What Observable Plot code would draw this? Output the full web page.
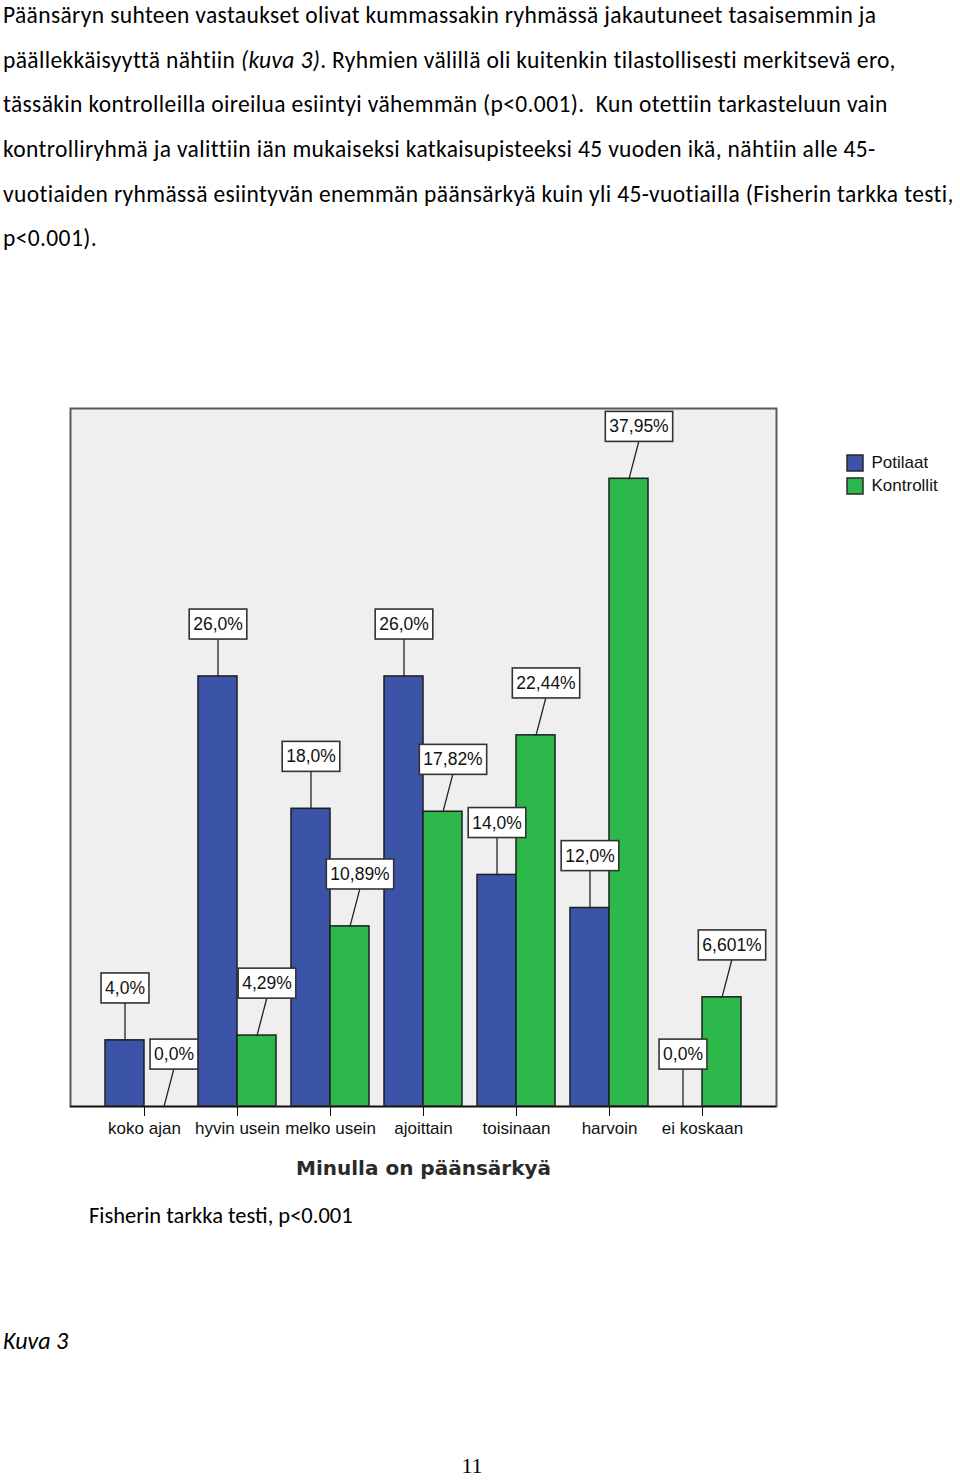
<!DOCTYPE html>
<html>
<head>
<meta charset="utf-8">
<script src="https://cdn.jsdelivr.net/npm/d3@7"></script>
<script src="https://cdn.jsdelivr.net/npm/@observablehq/plot@0.6"></script>
<style>
html, body { margin: 0; padding: 0; background: #fff; }
#page { position: relative; width: 960px; height: 1481px; overflow: hidden; background: #fff; color: #000; font-family: Carlito, Lato, "Open Sans", sans-serif; }
.para { position: absolute; left: 3px; top: 3px; font-size: 23.5px; letter-spacing: 0.36px; white-space: nowrap; }
.para div { height: 24px; line-height: 24px; margin-bottom: 20.7px; }
.caption { position: absolute; left: 89px; top: 1202px; font-size: 22.5px; line-height: 28px; white-space: nowrap; }
.kuva { position: absolute; left: 3px; top: 1327px; font-size: 24px; line-height: 28px; font-style: italic; }
.pageno { position: absolute; left: 0; width: 944px; text-align: center; top: 1457px; font-size: 22px; line-height: 18px; font-family: "Liberation Serif", "DejaVu Serif", serif; }
#chart { position: absolute; left: 0; top: 380px; }
#legend { position: absolute; left: 847px; top: 452px; }
#legend svg rect { stroke: #2a2a2a; stroke-width: 1.5px; }
</style>
</head>
<body>
<div id="page">
  <div class="para">
    <div>Päänsäryn suhteen vastaukset olivat kummassakin ryhmässä jakautuneet tasaisemmin ja</div>
    <div>päällekkäisyyttä nähtiin <i>(kuva 3)</i>. Ryhmien välillä oli kuitenkin tilastollisesti merkitsevä ero,</div>
    <div>tässäkin kontrolleilla oireilua esiintyi vähemmän (p&lt;0.001).&nbsp; Kun otettiin tarkasteluun vain</div>
    <div>kontrolliryhmä ja valittiin iän mukaiseksi katkaisupisteeksi 45 vuoden ikä, nähtiin alle 45-</div>
    <div>vuotiaiden ryhmässä esiintyvän enemmän päänsärkyä kuin yli 45-vuotiailla (Fisherin tarkka testi,</div>
    <div>p&lt;0.001).</div>
  </div>
  <div id="chart"></div>
  <div id="legend"></div>
  <div class="caption">Fisherin tarkka testi, p&lt;0.001</div>
  <div class="kuva">Kuva 3</div>
  <div class="pageno">11</div>
</div>
<script>
// ---- data ----
const categories = ["koko ajan", "hyvin usein", "melko usein", "ajoittain", "toisinaan", "harvoin", "ei koskaan"];
const potilaat = [4.0, 26.0, 18.0, 26.0, 14.0, 12.0, 0.0];
const kontrollit = [0.0, 4.29, 10.89, 17.82, 22.44, 37.95, 6.601];
const potilaatLabels = ["4,0%", "26,0%", "18,0%", "26,0%", "14,0%", "12,0%", "0,0%"];
const kontrollitLabels = ["0,0%", "4,29%", "10,89%", "17,82%", "22,44%", "37,95%", "6,601%"];
const seriesNames = ["Potilaat", "Kontrollit"];
const seriesColors = ["#3b54a8", "#2db84c"];
const axisTitle = "Minulla on päänsärkyä";

const blueRows = categories.map((c, i) => ({cat: c, value: potilaat[i], label: potilaatLabels[i]}));
const greenRows = categories.map((c, i) => ({cat: c, value: kontrollit[i], label: kontrollitLabels[i]}));

const leader = {draw(context, l) { context.moveTo(0, 0); context.lineTo(0, -l); }};
const font = "'Liberation Sans', Arial, sans-serif";

const chart = Plot.plot({
  width: 960,
  height: 820,
  marginLeft: 70,
  marginRight: 184,
  marginTop: 28,
  marginBottom: 94,
  style: {fontFamily: font, background: "transparent", overflow: "visible"},
  x: {domain: categories, paddingInner: 0.161, paddingOuter: 0.376, align: 0.5, label: null},
  y: {domain: [0, 42.2], axis: null},
  marks: [
    Plot.frame({fill: "#efefef", stroke: null}),
    Plot.barY(blueRows, {x: "cat", y: "value", insetRight: 39, fill: seriesColors[0], stroke: "#1e1e1e", strokeWidth: 1.5}),
    Plot.barY(greenRows, {x: "cat", y: "value", insetLeft: 39, fill: seriesColors[1], stroke: "#1e1e1e", strokeWidth: 1.5}),
    Plot.vector(blueRows, {x: "cat", y: "value", dx: -19.5, length: 37, rotate: 0, anchor: "start", shape: leader, stroke: "#222", strokeWidth: 1.3}),
    Plot.vector(greenRows, {x: "cat", y: "value", dx: 19.5, length: 38.3, rotate: 14.7, anchor: "start", shape: leader, stroke: "#222", strokeWidth: 1.3}),
    Plot.text(blueRows, {x: "cat", y: "value", text: "label", dx: -19.5, dy: -52, fontSize: 17.5, fill: "#111", ariaDescription: "boxed-label"}),
    Plot.text(greenRows, {x: "cat", y: "value", text: "label", dx: 29.5, dy: -52, fontSize: 17.5, fill: "#111", ariaDescription: "boxed-label"}),
    Plot.frame({stroke: "#5a5a5a", strokeWidth: 2}),
    Plot.ruleY([0], {stroke: "#111", strokeWidth: 1.6}),
    Plot.axisX({tickSize: 10, tickPadding: 5, fontSize: 17, label: null, stroke: "#111", fill: "#111"}),
    Plot.text([axisTitle], {frameAnchor: "bottom", dy: 68, fontSize: 20, fontWeight: "bold", fontFamily: "'DejaVu Sans', Verdana, sans-serif", fill: "#2a2a2a"})
  ]
});
document.getElementById("chart").appendChild(chart);

// white boxes behind the value labels
chart.querySelectorAll('g[aria-description="boxed-label"] text').forEach(t => {
  const bb = t.getBBox();
  const r = document.createElementNS("http://www.w3.org/2000/svg", "rect");
  r.setAttribute("x", bb.x - 4);
  r.setAttribute("y", bb.y - 5);
  r.setAttribute("width", bb.width + 8);
  r.setAttribute("height", bb.height + 10);
  r.setAttribute("fill", "#fff");
  r.setAttribute("stroke", "#333");
  r.setAttribute("stroke-width", "1.6");
  if (t.getAttribute("transform")) r.setAttribute("transform", t.getAttribute("transform"));
  t.parentNode.insertBefore(r, t);
});

const legend = Plot.legend({
  color: {type: "ordinal", domain: seriesNames, range: seriesColors},
  columns: 1,
  swatchSize: 16,
  style: {fontFamily: font, fontSize: "17px", color: "#111", lineHeight: "22px"}
});
document.getElementById("legend").appendChild(legend);
</script>
</body>
</html>
